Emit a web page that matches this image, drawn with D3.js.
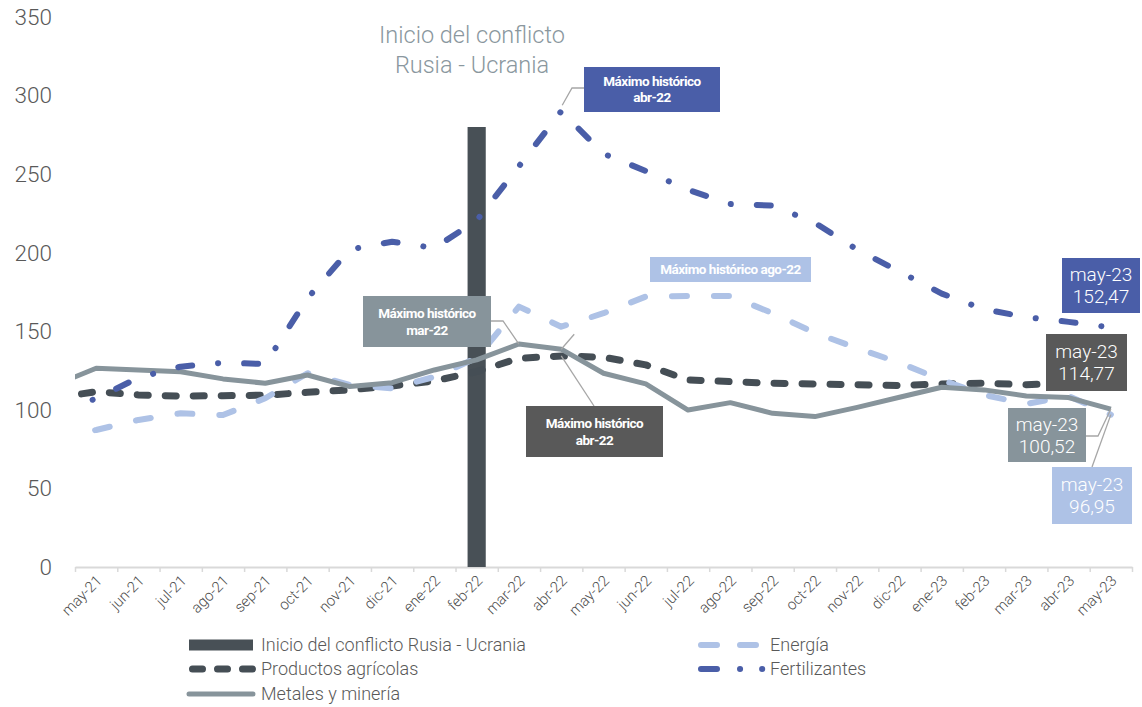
<!DOCTYPE html>
<html>
<head>
<meta charset="utf-8">
<script src="https://cdn.jsdelivr.net/npm/d3@7"></script>
<style>
  body { margin: 0; background: #fff; }
  text { font-family: Roboto, "Noto Sans", sans-serif; }
</style>
</head>
<body>
<div id="chart"></div>
<script>
var w = 1142;
var h = 707;

// meses del eje
var months = ["may-21","jun-21","jul-21","ago-21","sep-21","oct-21","nov-21","dic-21","ene-22","feb-22","mar-22","abr-22",
  "may-22","jun-22","jul-22","ago-22","sep-22","oct-22","nov-22","dic-22","ene-23","feb-23","mar-23","abr-23","may-23"];
var yTicks = [0, 50, 100, 150, 200, 250, 300, 350];

// valor previo (abr-21), queda recortado en el borde del eje
var leadIn = { agricolas: 107.5, energia: 82, metales: 115.5, fertilizantes: 100 };

var agricolas = [111.6,109.5,108.8,109,109.3,111.2,112.7,115.2,118.4,124.3,132.8,134.3,133.5,128.6,119,118,116.9,116.5,116,115.5,116.5,117,116,117,114.77];
var energia = [87.2,93.6,97.8,96.7,107.4,123.3,115.8,113.7,121,133,165.7,152.9,161.5,172.1,172.5,172.5,161.5,149,139.2,130,119,109.5,103.8,108.8,96.95];
var metales = [126.5,125.4,124.3,119.7,116.9,122.2,114.8,117.3,125.4,131.8,141.9,138.6,123.3,116.5,99.9,104.6,97.8,95.7,101.6,108,114.4,112.7,108.8,107.8,100.52];
var fertilizantes = [107,120.5,127.5,130,129.2,171,202,207,203,220.5,255,290,263,252,240,231,230,219,202,188,174,164,159,156,152.47];

var conflictMonth = "feb-22";
var conflictValue = 280;

var series = [
  { name: "Productos agrícolas", key: "agricolas", values: agricolas, color: "#454e55", width: 7, dash: "11,17", legendDash: "10,15" },
  { name: "Energía", key: "energia", values: energia, color: "#aec2e6", width: 6, dash: "15,27", legendDash: "16,23,16,100" },
  { name: "Metales y minería", key: "metales", values: metales, color: "#87949b", width: 5, dash: null, legendDash: null },
  { name: "Fertilizantes", key: "fertilizantes", values: fertilizantes, color: "#4a5ea8", width: 6, dash: "14,26,0.1,26", legendDash: "16,23,0.1,22,0.1,100" }
];

var padL = 75, padR = 1132, padT = 17, axisY = 567;

var svg = d3.select("#chart").append("svg")
  .attr("width", w)
  .attr("height", h);

var x = d3.scaleLinear()
  .domain([-0.5, months.length - 0.5])
  .range([padL, padR]);
var y = d3.scaleLinear()
  .domain([0, 350])
  .range([axisY, padT]);
var step = x(1) - x(0);

// eje y (solo etiquetas)
svg.append("g").selectAll("text")
  .data(yTicks)
  .enter()
  .append("text")
  .attr("x", 52)
  .attr("y", function(d) { return y(d); })
  .attr("dy", "0.35em")
  .attr("text-anchor", "end")
  .attr("font-size", 22.5)
  .attr("font-weight", 300)
  .attr("fill", "#595959")
  .text(function(d) { return d; });

// eje x
var xAxis = d3.axisBottom(x)
  .tickValues(d3.range(-0.5, months.length, 1))
  .tickSize(5)
  .tickSizeOuter(0)
  .tickFormat("");
var gx = svg.append("g")
  .attr("transform", "translate(0," + axisY + ")")
  .call(xAxis);
gx.select(".domain").attr("stroke", "#d9d9d9").attr("stroke-width", 2);
gx.selectAll(".tick line").attr("stroke", "#d9d9d9").attr("stroke-width", 1.5);

svg.append("g").selectAll("text")
  .data(months)
  .enter()
  .append("text")
  .attr("transform", function(d, i) { return "translate(" + (x(i) + 3) + "," + (axisY + 11) + ") rotate(-45)"; })
  .attr("text-anchor", "end")
  .attr("dy", "0.35em")
  .attr("font-size", 15)
  .attr("font-weight", 300)
  .attr("fill", "#4d4d4d")
  .text(function(d) { return d; });

// area recortada
svg.append("clipPath").attr("id", "plot")
  .append("rect")
  .attr("x", padL).attr("y", 0)
  .attr("width", padR - padL).attr("height", axisY);

var plot = svg.append("g").attr("clip-path", "url(#plot)");

// barra de inicio del conflicto
var ci = months.indexOf(conflictMonth);
plot.append("rect")
  .attr("x", x(ci) - step * 0.215)
  .attr("y", y(conflictValue))
  .attr("width", step * 0.43)
  .attr("height", y(0) - y(conflictValue))
  .attr("fill", "#485056");

var line = d3.line()
  .x(function(d) { return x(d.i); })
  .y(function(d) { return y(d.v); });

series.forEach(function(s) {
  var pts = [{ i: -1, v: leadIn[s.key] }].concat(s.values.map(function(v, i) { return { i: i, v: v }; }));
  plot.append("path")
    .datum(pts)
    .attr("d", line)
    .attr("fill", "none")
    .attr("stroke", s.color)
    .attr("stroke-width", s.width)
    .attr("stroke-linecap", s.dash ? "round" : "butt")
    .attr("stroke-linejoin", "round")
    .attr("stroke-dasharray", s.dash);
});

// titulo de la barra
svg.append("text")
  .attr("x", 472).attr("y", 43)
  .attr("text-anchor", "middle")
  .attr("font-size", 23.5)
  .attr("font-weight", 300)
  .attr("fill", "#8a979e")
  .text("Inicio del conflicto");
svg.append("text")
  .attr("x", 472).attr("y", 73)
  .attr("text-anchor", "middle")
  .attr("font-size", 23.5)
  .attr("font-weight", 300)
  .attr("fill", "#8a979e")
  .text("Rusia - Ucrania");

// lineas guia
var leaders = svg.append("g")
  .attr("fill", "none")
  .attr("stroke", "#a6a6a6")
  .attr("stroke-width", 1.3);
var iAbr = months.indexOf("abr-22"), iMar = months.indexOf("mar-22"), iEnd = months.length - 1;
leaders.append("path").attr("d", "M584,88H572L" + (x(iAbr) + 1) + "," + (y(fertilizantes[iAbr]) - 6));
leaders.append("path").attr("d", "M491,321H503L" + x(iMar) + "," + y(metales[iMar]));
leaders.append("path").attr("d", "M594,406L" + x(iAbr) + "," + y(agricolas[iAbr]));
leaders.append("path").attr("d", "M" + x(iAbr) + "," + y(metales[iAbr]) + "l13,-15");
leaders.append("path").attr("d", "M1086,436H1098L" + x(iEnd) + "," + y(metales[iEnd]));
leaders.append("path").attr("d", "M1092,467L" + x(iEnd) + "," + y(energia[iEnd]));

function box(bx, by, bw, bh, fill, lines, size, weight, gap) {
  var g = svg.append("g");
  g.append("rect")
    .attr("x", bx).attr("y", by)
    .attr("width", bw).attr("height", bh)
    .attr("fill", fill);
  var cy = by + bh / 2 - (lines.length - 1) * gap / 2;
  lines.forEach(function(t, k) {
    g.append("text")
      .attr("x", bx + bw / 2)
      .attr("y", cy + k * gap)
      .attr("dy", "0.36em")
      .attr("text-anchor", "middle")
      .attr("font-size", size)
      .attr("font-weight", weight)
      .attr("letter-spacing", weight == 700 ? "-0.5px" : "0px")
      .attr("fill", "#fff")
      .text(t);
  });
}

box(584, 67, 136, 45, "#4a5ea8", ["Máximo histórico", "abr-22"], 13.5, 700, 16);
box(363, 296, 128, 51, "#87949b", ["Máximo histórico", "mar-22"], 13.5, 700, 17);
box(526, 406, 137, 51, "#595959", ["Máximo histórico", "abr-22"], 13.5, 700, 17);
box(650, 257, 161, 25, "#aec2e6", ["Máximo histórico ago-22"], 13.5, 700, 16);

box(1062, 258, 78, 55, "#4a5ea8", ["may-23", "152,47"], 19, 300, 22);
box(1046, 334, 81, 57, "#595959", ["may-23", "114,77"], 19, 300, 22);
box(1008, 408, 78, 54, "#87949b", ["may-23", "100,52"], 19, 300, 22);
box(1052, 467, 80, 57, "#aec2e6", ["may-23", "96,95"], 19, 300, 22);

// leyenda
var legend = [
  { name: "Inicio del conflicto Rusia - Ucrania", type: "bar", color: "#485056", lx: 189, ly: 645 },
  { name: series[0].name, s: series[0], lx: 189, ly: 669 },
  { name: series[2].name, s: series[2], lx: 189, ly: 694 },
  { name: series[1].name, s: series[1], lx: 698, ly: 645 },
  { name: series[3].name, s: series[3], lx: 698, ly: 669 }
];

var lg = svg.append("g");
legend.forEach(function(d) {
  if (d.type === "bar") {
    lg.append("rect")
      .attr("x", d.lx).attr("y", d.ly - 5.5)
      .attr("width", 64).attr("height", 11)
      .attr("fill", d.color);
  } else {
    var cap = d.s.dash ? d.s.width / 2 : 0;
    lg.append("line")
      .attr("x1", d.lx + cap).attr("x2", d.s.dash ? d.lx + 66 : d.lx + 64)
      .attr("y1", d.ly).attr("y2", d.ly)
      .attr("stroke", d.s.color)
      .attr("stroke-width", d.s.width)
      .attr("stroke-linecap", "round")
      .attr("stroke-dasharray", d.s.legendDash);
  }
  lg.append("text")
    .attr("x", d.lx + 72)
    .attr("y", d.ly)
    .attr("dy", "0.35em")
    .attr("font-size", 18)
    .attr("font-weight", 300)
    .attr("fill", "#595959")
    .text(d.name);
});
</script>
</body>
</html>
